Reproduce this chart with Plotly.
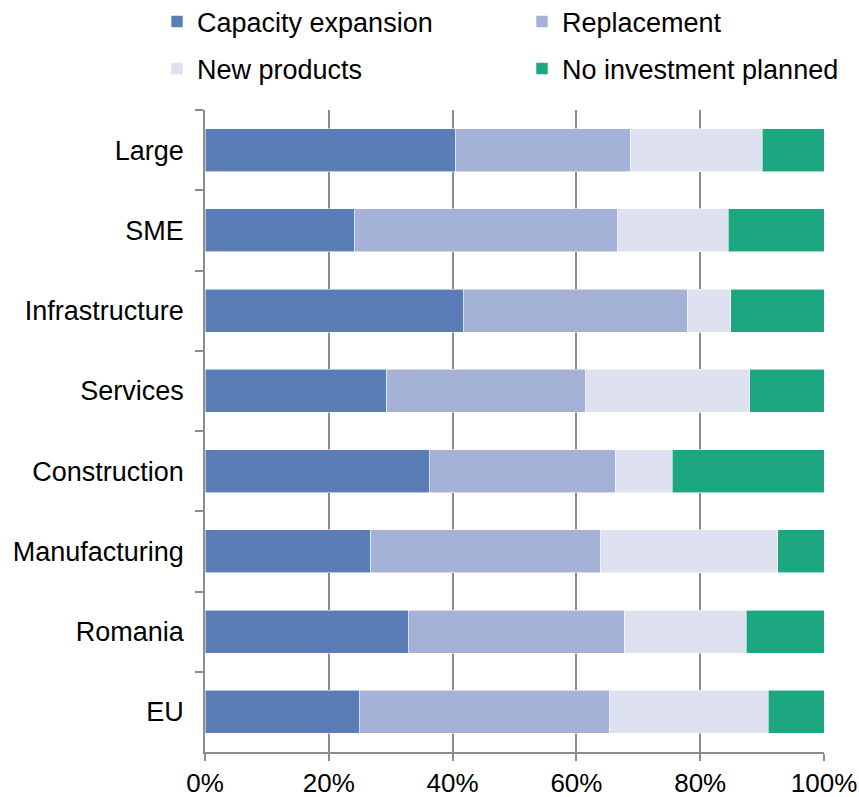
import plotly.graph_objects as go

categories = ["Large", "SME", "Infrastructure", "Services", "Construction",
              "Manufacturing", "Romania", "EU"]
capacity_expansion = [40.5, 24.1, 41.7, 29.4, 36.2, 26.8, 32.8, 24.9]
replacement = [28.2, 42.6, 36.2, 32.1, 30.1, 37.1, 34.9, 40.4]
new_products = [21.3, 17.8, 7.0, 26.5, 9.2, 28.6, 19.7, 25.7]
no_investment = [10.0, 15.5, 15.1, 12.0, 24.5, 7.5, 12.6, 9.0]

series_names = ["Capacity expansion", "Replacement", "New products", "No investment planned"]
series_values = [capacity_expansion, replacement, new_products, no_investment]
colors = ["#5A7DB8", "#A4B2D7", "#DDE1F0", "#1DA781"]

x_tickvals = [0, 20, 40, 60, 80, 100]
x_ticktext = ["0%", "20%", "40%", "60%", "80%", "100%"]

FONT = "Liberation Sans, Arial, sans-serif"
FS = 27

legend_ids = ["legend", "legend2", "legend3", "legend4"]
# legend positions (container fractions): column left / row centre
legend_pos = [(0.1828, 0.9724), (0.6077, 0.9724), (0.1828, 0.9134), (0.6077, 0.9134)]

fig = go.Figure()
for name, vals, col, lg in zip(series_names, series_values, colors, legend_ids):
    fig.add_trace(go.Bar(
        y=categories, x=vals, name=name, orientation="h",
        marker=dict(color=col, line=dict(color="rgba(255,255,255,0.7)", width=0.8)),
        legend=lg, showlegend=True,
    ))

legends = {}
for lg, (lx, ly) in zip(legend_ids, legend_pos):
    legends[lg] = dict(
        orientation="h", xref="container", yref="container",
        x=lx, y=ly, xanchor="left", yanchor="middle",
        font=dict(family=FONT, size=FS, color="#000000"),
        bgcolor="rgba(0,0,0,0)", itemclick=False, visible=True,
    )

fig.update_layout(
    width=859, height=797,
    margin=dict(l=205, r=35, t=110, b=45),
    paper_bgcolor="white", plot_bgcolor="white",
    barmode="stack", bargap=0.465,
    showlegend=True,
    font=dict(family=FONT, size=FS, color="#000000"),
    **legends,
    xaxis=dict(
        range=[0, 100], tickmode="array", tickvals=x_tickvals, ticktext=x_ticktext,
        showgrid=True, gridcolor="#8C8C8C", gridwidth=1.5,
        showline=True, linecolor="#8C8C8C", linewidth=1.5,
        ticks="outside", ticklen=7, tickcolor="#8C8C8C", tickwidth=1.5,
        zeroline=False, automargin=False,
        tickfont=dict(family=FONT, size=26, color="#000000"),
    ),
    yaxis=dict(
        categoryorder="array", categoryarray=categories, autorange="reversed",
        showgrid=False, showline=True, linecolor="#8C8C8C", linewidth=1.5,
        ticks="outside", ticklen=8, tickcolor="#8C8C8C", tickwidth=1.5,
        tickson="boundaries", ticklabelstandoff=14, automargin=False,
        tickfont=dict(family=FONT, size=FS, color="#000000"),
    ),
)

fig.write_html("out.html")
